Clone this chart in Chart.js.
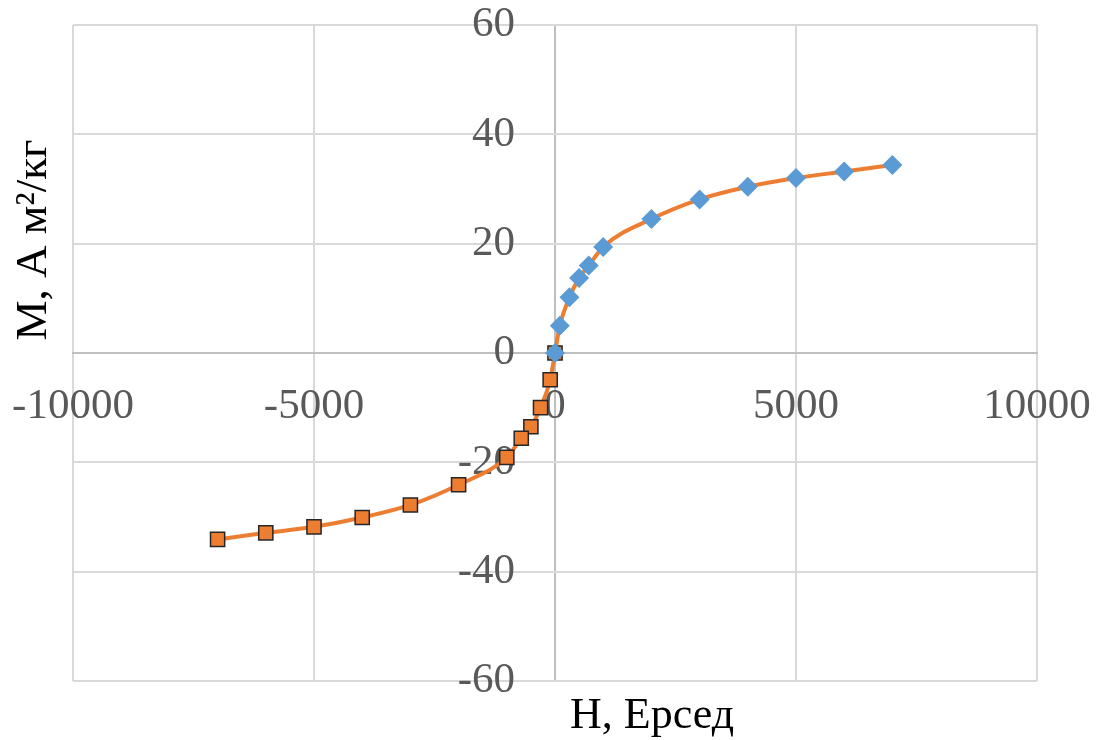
<!DOCTYPE html>
<html>
<head>
<meta charset="utf-8">
<script src="https://cdn.jsdelivr.net/npm/chart.js@4/dist/chart.umd.min.js"></script>
<style>
  body { margin: 0; background: #fff; }
  #wrap { width: 1099px; height: 740px; position: relative; }
</style>
</head>
<body>
<div id="wrap"><canvas id="chart"></canvas></div>
<script>
// magnetization data, H in Oe, M in A m2/kg
const hPos = [0, 100, 300, 500, 700, 1000, 2000, 3000, 4000, 5000, 6000, 7000];
const mPos = [0, 5.0, 10.2, 13.7, 16.0, 19.4, 24.5, 28.1, 30.4, 32.0, 33.2, 34.4];
const hNeg = [0, -100, -300, -500, -700, -1000, -2000, -3000, -4000, -5000, -6000, -7000];
const mNeg = [0, -4.9, -10.0, -13.5, -15.6, -19.1, -24.1, -27.8, -30.1, -31.8, -32.9, -34.1];

const xTitle = "H, Ерсед";
const yTitle = "M, A м²/кг";

// y labels sit a bit left of the H=0 line (chart.js ignores tick padding for object positions)
const yLabelAt = -830;

const posPoints = hPos.map((h, i) => ({ x: h, y: mPos[i] }));
const negPoints = hNeg.map((h, i) => ({ x: h, y: mNeg[i] }));
// full curve sorted by H, zero only once
const curvePoints = negPoints.slice().reverse().concat(posPoints.slice(1));

// axis titles drawn by hand (Excel put them off-centre)
const axisTitles = {
  id: "axisTitles",
  afterDraw(chart) {
    const ctx = chart.ctx;
    ctx.save();
    ctx.fillStyle = "#000";
    ctx.textAlign = "center";
    ctx.textBaseline = "middle";
    ctx.font = "44px 'Liberation Serif'";
    ctx.fillText(xTitle, 652, 716);
    ctx.translate(34, 240);
    ctx.rotate(-Math.PI / 2);
    ctx.font = "45px 'Liberation Serif'";
    ctx.fillText(yTitle, 0, 0);
    ctx.restore();
  },
};

// don't let tick labels push the plot area around
function noPadding(scale) {
  scale.paddingLeft = 0;
  scale.paddingRight = 0;
  scale.paddingTop = 0;
  scale.paddingBottom = 0;
}

const tickFont = { family: "'Liberation Serif'", size: 43 };

const ctx = document.getElementById("chart").getContext("2d");

const config = {
  type: "scatter",
  data: {
    datasets: [
      {
        label: "M+",
        data: posPoints,
        pointStyle: "rectRot",
        pointRadius: 10,
        pointBackgroundColor: "#5B9BD5",
        pointBorderColor: "#5B9BD5",
        pointBorderWidth: 0,
        showLine: false,
        order: 0,
      },
      {
        label: "M-",
        data: negPoints,
        pointStyle: "rect",
        pointRadius: 10,
        pointBackgroundColor: "#ED7D31",
        pointBorderColor: "#262626",
        pointBorderWidth: 1.5,
        showLine: false,
        order: 1,
      },
      {
        label: "curve",
        data: curvePoints,
        showLine: true,
        pointRadius: 0,
        borderColor: "#ED7D31",
        borderWidth: 4,
        cubicInterpolationMode: "monotone",
        order: 2,
      },
    ],
  },
  options: {
    responsive: true,
    maintainAspectRatio: false,
    animation: false,
    layout: {
      padding: { left: 73, right: 62, top: 25, bottom: 59 },
    },
    plugins: {
      legend: { display: false },
      tooltip: { enabled: false },
    },
    scales: {
      x: {
        type: "linear",
        position: { y: 0 },
        min: -10000,
        max: 10000,
        afterFit: noPadding,
        ticks: {
          stepSize: 5000,
          padding: 28,
          color: "#595959",
          font: tickFont,
          callback: (v) => String(v),
        },
        grid: {
          color: (c) => (c.tick && c.tick.value === 0 ? "#bfbfbf" : "#d9d9d9"),
          lineWidth: 2,
          drawTicks: false,
        },
        border: { color: "#bfbfbf", width: 2 },
      },
      y: {
        type: "linear",
        position: { x: yLabelAt },
        min: -60,
        max: 60,
        afterFit: noPadding,
        ticks: {
          stepSize: 20,
          padding: 0,
          color: "#595959",
          font: tickFont,
          callback: (v) => String(v),
        },
        grid: { color: "#d9d9d9", lineWidth: 2, drawTicks: false },
        border: { display: false },
      },
    },
  },
  plugins: [axisTitles],
};

const myChart = new Chart(ctx, config);
</script>
</body>
</html>
